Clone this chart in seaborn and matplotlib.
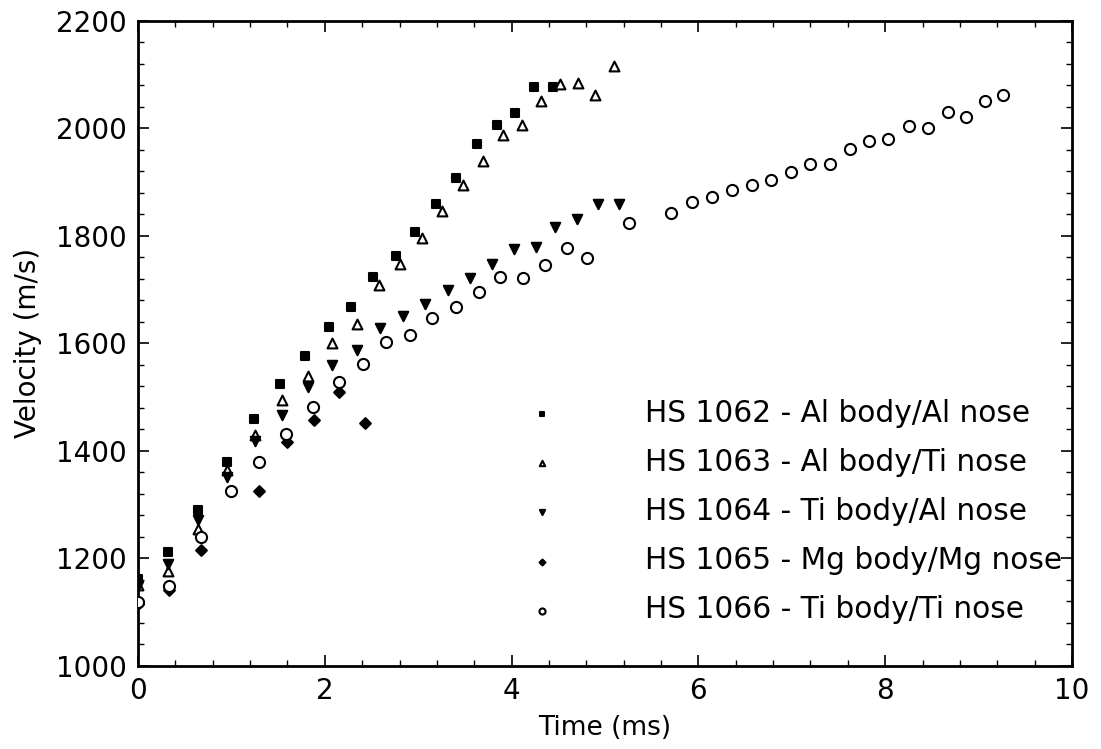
import matplotlib
matplotlib.use("Agg")
import matplotlib.pyplot as plt
from matplotlib.ticker import MultipleLocator
import seaborn as sns
import pandas as pd

# ---- data ----
t_1062 = [0.00, 0.32, 0.64, 0.95, 1.24, 1.52, 1.79, 2.04, 2.28, 2.52, 2.76, 2.97, 3.19, 3.41, 3.63, 3.84, 4.04, 4.24, 4.44]
v_1062 = [1162, 1211, 1290, 1379, 1459, 1525, 1576, 1631, 1667, 1724, 1762, 1808, 1859, 1908, 1972, 2007, 2028, 2078, 2078]

t_1063 = [0.00, 0.32, 0.64, 0.95, 1.25, 1.54, 1.82, 2.08, 2.34, 2.58, 2.80, 3.04, 3.26, 3.48, 3.69, 3.91, 4.11, 4.32, 4.52, 4.71, 4.89, 5.10]
v_1063 = [1150, 1177, 1255, 1365, 1430, 1494, 1539, 1600, 1637, 1708, 1748, 1796, 1846, 1894, 1940, 1987, 2007, 2051, 2082, 2084, 2063, 2117]

t_1064 = [0.00, 0.32, 0.64, 0.95, 1.25, 1.54, 1.82, 2.08, 2.34, 2.59, 2.84, 3.07, 3.32, 3.55, 3.79, 4.03, 4.26, 4.47, 4.70, 4.93, 5.15]
v_1064 = [1148, 1190, 1272, 1352, 1418, 1466, 1518, 1559, 1588, 1629, 1651, 1673, 1700, 1721, 1748, 1775, 1779, 1816, 1832, 1860, 1860]

t_1065 = [0.00, 0.33, 0.67, 1.30, 1.60, 1.88, 2.15, 2.43]
v_1065 = [1115, 1141, 1215, 1326, 1417, 1458, 1510, 1452]

t_1066 = [0.00, 0.33, 0.67, 1.00, 1.30, 1.58, 1.87, 2.15, 2.41, 2.66, 2.91, 3.15, 3.41, 3.65, 3.88, 4.12, 4.36, 4.59, 4.81,
          5.26, 5.71, 5.93, 6.15, 6.36, 6.57, 6.78, 6.99, 7.20, 7.41, 7.62, 7.83, 8.03, 8.25, 8.46, 8.67, 8.86, 9.07, 9.26]
v_1066 = [1118, 1149, 1239, 1326, 1379, 1432, 1481, 1528, 1562, 1603, 1615, 1647, 1667, 1696, 1724, 1721, 1745, 1777, 1759,
          1824, 1842, 1864, 1872, 1886, 1895, 1904, 1919, 1933, 1933, 1961, 1976, 1981, 2004, 2000, 2031, 2021, 2052, 2063]

labels = ["HS 1062 - Al body/Al nose",
          "HS 1063 - Al body/Ti nose",
          "HS 1064 - Ti body/Al nose",
          "HS 1065 - Mg body/Mg nose",
          "HS 1066 - Ti body/Ti nose"]

x_ticks = [0, 2, 4, 6, 8, 10]
y_ticks = [1000, 1200, 1400, 1600, 1800, 2000, 2200]

series = [
    (t_1062, v_1062, labels[0], "s", "black", 32),
    (t_1063, v_1063, labels[1], "^", "white", 50),
    (t_1064, v_1064, labels[2], "v", "black", 46),
    (t_1065, v_1065, labels[3], "D", "black", 30),
    (t_1066, v_1066, labels[4], "o", "white", 64),
]

sns.set_style("ticks")
plt.rcParams["font.family"] = ["DejaVu Sans"]
plt.rcParams["font.size"] = 20
plt.rcParams["text.color"] = "black"
plt.rcParams["axes.labelcolor"] = "black"
plt.rcParams["xtick.color"] = "black"
plt.rcParams["ytick.color"] = "black"

fig = plt.figure(figsize=(11.01, 7.49), dpi=100)
ax = fig.add_axes([0.1253, 0.111, 0.9737 - 0.1253, 0.972 - 0.111])

for t, v, lab, mk, fc, sz in series:
    df = pd.DataFrame({"t": t, "v": v})
    sns.scatterplot(data=df, x="t", y="v", ax=ax, marker=mk, s=sz,
                    color="black", facecolor=fc, edgecolor="black",
                    linewidth=1.5, label=lab, zorder=3)

ax.set_xlim(0, 10)
ax.set_ylim(1000, 2200)
ax.set_xticks(x_ticks)
ax.set_yticks(y_ticks)
ax.xaxis.set_minor_locator(MultipleLocator(0.4))
ax.yaxis.set_minor_locator(MultipleLocator(40))
ax.tick_params(which="both", direction="in", top=True, right=True,
               color="black", labelcolor="black", labelsize=20, pad=8)
ax.tick_params(which="major", length=8, width=1.2)
ax.tick_params(which="minor", length=4.5, width=1.0)
for sp in ax.spines.values():
    sp.set_linewidth(2.0)
    sp.set_color("black")

ax.set_xlabel("Time (ms)", fontsize=19, labelpad=7, color="black")
ax.set_ylabel("Velocity (m/s)", fontsize=20, labelpad=10, color="black")

leg = ax.legend(loc="upper left", bbox_to_anchor=(527 / 1101, 1 - 399 / 749),
                bbox_transform=fig.transFigure, frameon=False, fontsize=21.3,
                markerscale=0.55, handlelength=1.0, handletextpad=2.98,
                labelspacing=0.68, borderpad=0, borderaxespad=0)
for txt in leg.get_texts():
    txt.set_color("black")

fig.savefig("out.png", dpi=100, facecolor="white")
